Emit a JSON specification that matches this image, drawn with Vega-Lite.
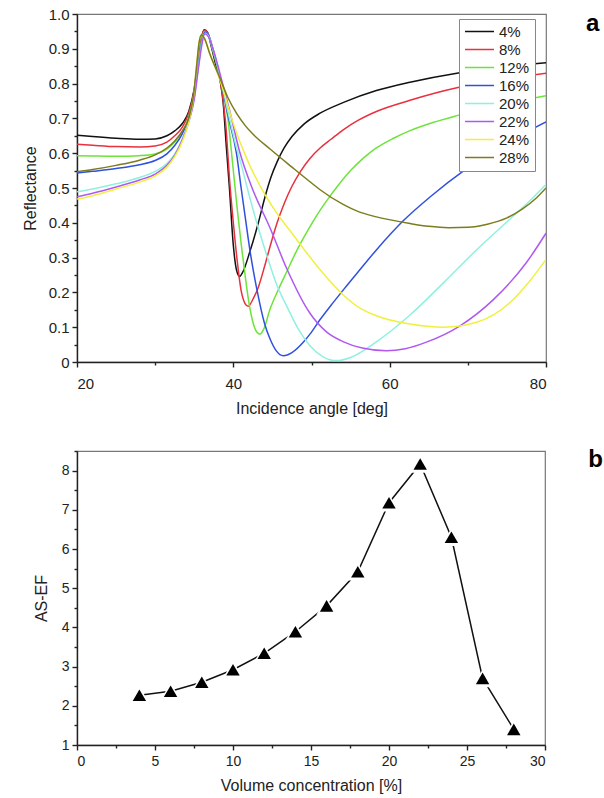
{
"$schema": "https://vega.github.io/schema/vega-lite/v6.json",
"padding": {"left": 21, "top": 6, "right": 5, "bottom": 5},
"spacing": 26,
"resolve": {"scale": {"color": "independent"}, "legend": {"color": "independent"}},
"config": {
  "font": "Liberation Sans",
  "view": {"stroke": "#777", "strokeWidth": 1.2},
  "axis": {"grid": false, "domainColor": "#222", "tickColor": "#222", "labelColor": "#222", "titleColor": "#222", "labelFont": "Liberation Sans", "titleFont": "Liberation Sans", "titleFontWeight": "normal", "domainWidth": 1.4, "tickWidth": 1.4, "labelOverlap": false}
},
"vconcat": [
{
  "width": 469, "height": 348,
  "title": {"text": "a", "orient": "right", "anchor": "start", "angle": 0, "align": "left", "baseline": "top", "fontSize": 24, "fontWeight": "bold", "offset": 26, "dy": 5, "color": "#000"},
  "data": {"values": [
{"c":"4%","a":20,"r":0.652},{"c":"4%","a":22,"r":0.648},{"c":"4%","a":25,"r":0.643},{"c":"4%","a":28,"r":0.640},{"c":"4%","a":30,"r":0.641},{"c":"4%","a":31.5,"r":0.650},{"c":"4%","a":32.5,"r":0.664},{"c":"4%","a":33.5,"r":0.686},{"c":"4%","a":34.3,"r":0.720},{"c":"4%","a":35,"r":0.785},{"c":"4%","a":35.5,"r":0.865},{"c":"4%","a":36,"r":0.94},{"c":"4%","a":36.3,"r":0.955},{"c":"4%","a":36.7,"r":0.947},{"c":"4%","a":37.2,"r":0.905},{"c":"4%","a":37.8,"r":0.85},{"c":"4%","a":38.3,"r":0.81},{"c":"4%","a":38.7,"r":0.745},{"c":"4%","a":39.1,"r":0.62},{"c":"4%","a":39.5,"r":0.50},{"c":"4%","a":40.0,"r":0.335},{"c":"4%","a":40.4,"r":0.265},{"c":"4%","a":40.8,"r":0.246},{"c":"4%","a":41.2,"r":0.258},{"c":"4%","a":42.1,"r":0.316},{"c":"4%","a":43.2,"r":0.40},{"c":"4%","a":44.0,"r":0.47},{"c":"4%","a":44.8,"r":0.53},{"c":"4%","a":45.6,"r":0.575},{"c":"4%","a":46.5,"r":0.615},{"c":"4%","a":47.5,"r":0.648},{"c":"4%","a":49.0,"r":0.683},{"c":"4%","a":51.1,"r":0.715},{"c":"4%","a":54.1,"r":0.746},{"c":"4%","a":58.3,"r":0.78},{"c":"4%","a":62.6,"r":0.804},{"c":"4%","a":68.6,"r":0.83},{"c":"4%","a":74,"r":0.846},{"c":"4%","a":80,"r":0.86},
{"c":"8%","a":20,"r":0.626},{"c":"8%","a":22,"r":0.623},{"c":"8%","a":25,"r":0.619},{"c":"8%","a":28,"r":0.618},{"c":"8%","a":30,"r":0.621},{"c":"8%","a":31.5,"r":0.632},{"c":"8%","a":32.5,"r":0.650},{"c":"8%","a":33.5,"r":0.676},{"c":"8%","a":34.3,"r":0.715},{"c":"8%","a":35,"r":0.78},{"c":"8%","a":35.5,"r":0.86},{"c":"8%","a":36,"r":0.937},{"c":"8%","a":36.3,"r":0.953},{"c":"8%","a":36.8,"r":0.942},{"c":"8%","a":37.4,"r":0.895},{"c":"8%","a":38.3,"r":0.815},{"c":"8%","a":39.0,"r":0.69},{"c":"8%","a":39.6,"r":0.50},{"c":"8%","a":40.0,"r":0.40},{"c":"8%","a":40.5,"r":0.29},{"c":"8%","a":41.0,"r":0.205},{"c":"8%","a":41.5,"r":0.168},{"c":"8%","a":41.9,"r":0.16},{"c":"8%","a":42.5,"r":0.18},{"c":"8%","a":43.2,"r":0.215},{"c":"8%","a":44.0,"r":0.275},{"c":"8%","a":44.8,"r":0.34},{"c":"8%","a":45.6,"r":0.40},{"c":"8%","a":46.5,"r":0.455},{"c":"8%","a":47.5,"r":0.505},{"c":"8%","a":48.6,"r":0.548},{"c":"8%","a":49.8,"r":0.585},{"c":"8%","a":51.1,"r":0.615},{"c":"8%","a":52.5,"r":0.64},{"c":"8%","a":54.1,"r":0.668},{"c":"8%","a":56,"r":0.695},{"c":"8%","a":58.3,"r":0.72},{"c":"8%","a":62.6,"r":0.752},{"c":"8%","a":68.6,"r":0.788},{"c":"8%","a":74,"r":0.81},{"c":"8%","a":80,"r":0.83},
{"c":"12%","a":20,"r":0.593},{"c":"12%","a":22,"r":0.592},{"c":"12%","a":25,"r":0.591},{"c":"12%","a":28,"r":0.593},{"c":"12%","a":30,"r":0.598},{"c":"12%","a":31.5,"r":0.612},{"c":"12%","a":32.5,"r":0.632},{"c":"12%","a":33.5,"r":0.663},{"c":"12%","a":34.3,"r":0.705},{"c":"12%","a":35,"r":0.772},{"c":"12%","a":35.5,"r":0.855},{"c":"12%","a":36,"r":0.932},{"c":"12%","a":36.3,"r":0.95},{"c":"12%","a":36.8,"r":0.94},{"c":"12%","a":37.4,"r":0.893},{"c":"12%","a":38.3,"r":0.815},{"c":"12%","a":39.3,"r":0.70},{"c":"12%","a":40.0,"r":0.55},{"c":"12%","a":40.5,"r":0.44},{"c":"12%","a":41.0,"r":0.34},{"c":"12%","a":41.5,"r":0.25},{"c":"12%","a":42.0,"r":0.17},{"c":"12%","a":42.5,"r":0.115},{"c":"12%","a":43.0,"r":0.086},{"c":"12%","a":43.4,"r":0.08},{"c":"12%","a":43.9,"r":0.095},{"c":"12%","a":44.7,"r":0.152},{"c":"12%","a":45.7,"r":0.205},{"c":"12%","a":46.8,"r":0.258},{"c":"12%","a":48.0,"r":0.315},{"c":"12%","a":49.2,"r":0.365},{"c":"12%","a":50.5,"r":0.415},{"c":"12%","a":52.0,"r":0.465},{"c":"12%","a":53.5,"r":0.51},{"c":"12%","a":55.0,"r":0.55},{"c":"12%","a":56.6,"r":0.585},{"c":"12%","a":58.3,"r":0.615},{"c":"12%","a":60.5,"r":0.643},{"c":"12%","a":62.6,"r":0.665},{"c":"12%","a":65.5,"r":0.688},{"c":"12%","a":68.6,"r":0.708},{"c":"12%","a":74,"r":0.738},{"c":"12%","a":80,"r":0.765},
{"c":"16%","a":20,"r":0.543},{"c":"16%","a":22,"r":0.548},{"c":"16%","a":25,"r":0.556},{"c":"16%","a":28,"r":0.567},{"c":"16%","a":30,"r":0.579},{"c":"16%","a":31.5,"r":0.598},{"c":"16%","a":32.5,"r":0.622},{"c":"16%","a":33.5,"r":0.657},{"c":"16%","a":34.3,"r":0.70},{"c":"16%","a":35,"r":0.765},{"c":"16%","a":35.5,"r":0.848},{"c":"16%","a":36,"r":0.925},{"c":"16%","a":36.4,"r":0.948},{"c":"16%","a":36.9,"r":0.935},{"c":"16%","a":37.5,"r":0.89},{"c":"16%","a":38.3,"r":0.82},{"c":"16%","a":39.3,"r":0.71},{"c":"16%","a":40.4,"r":0.60},{"c":"16%","a":41.0,"r":0.50},{"c":"16%","a":41.5,"r":0.42},{"c":"16%","a":42.2,"r":0.31},{"c":"16%","a":43.0,"r":0.21},{"c":"16%","a":44.0,"r":0.11},{"c":"16%","a":44.7,"r":0.066},{"c":"16%","a":45.5,"r":0.032},{"c":"16%","a":46.4,"r":0.018},{"c":"16%","a":47.5,"r":0.027},{"c":"16%","a":49.0,"r":0.058},{"c":"16%","a":49.8,"r":0.08},{"c":"16%","a":51.1,"r":0.122},{"c":"16%","a":52.5,"r":0.163},{"c":"16%","a":54.1,"r":0.208},{"c":"16%","a":56,"r":0.26},{"c":"16%","a":58.3,"r":0.322},{"c":"16%","a":61.7,"r":0.405},{"c":"16%","a":65.2,"r":0.475},{"c":"16%","a":69.8,"r":0.555},{"c":"16%","a":75,"r":0.63},{"c":"16%","a":80,"r":0.69},
{"c":"20%","a":20,"r":0.489},{"c":"20%","a":22,"r":0.497},{"c":"20%","a":25,"r":0.512},{"c":"20%","a":28,"r":0.530},{"c":"20%","a":30,"r":0.548},{"c":"20%","a":31.5,"r":0.570},{"c":"20%","a":32.5,"r":0.598},{"c":"20%","a":33.5,"r":0.643},{"c":"20%","a":34.3,"r":0.695},{"c":"20%","a":35,"r":0.76},{"c":"20%","a":35.5,"r":0.843},{"c":"20%","a":36,"r":0.92},{"c":"20%","a":36.4,"r":0.945},{"c":"20%","a":36.9,"r":0.933},{"c":"20%","a":37.5,"r":0.89},{"c":"20%","a":38.3,"r":0.822},{"c":"20%","a":39.5,"r":0.70},{"c":"20%","a":40.3,"r":0.625},{"c":"20%","a":41.1,"r":0.56},{"c":"20%","a":41.9,"r":0.49},{"c":"20%","a":43.0,"r":0.40},{"c":"20%","a":44.3,"r":0.305},{"c":"20%","a":45.5,"r":0.225},{"c":"20%","a":46.8,"r":0.162},{"c":"20%","a":48.3,"r":0.095},{"c":"20%","a":49.8,"r":0.047},{"c":"20%","a":51.5,"r":0.015},{"c":"20%","a":53.2,"r":0.004},{"c":"20%","a":55,"r":0.013},{"c":"20%","a":58.3,"r":0.058},{"c":"20%","a":62.6,"r":0.135},{"c":"20%","a":66.9,"r":0.228},{"c":"20%","a":71.1,"r":0.322},{"c":"20%","a":75.4,"r":0.411},{"c":"20%","a":78.0,"r":0.465},{"c":"20%","a":80,"r":0.51},
{"c":"22%","a":20,"r":0.475},{"c":"22%","a":22,"r":0.485},{"c":"22%","a":25,"r":0.503},{"c":"22%","a":28,"r":0.523},{"c":"22%","a":30,"r":0.540},{"c":"22%","a":31.5,"r":0.565},{"c":"22%","a":32.5,"r":0.594},{"c":"22%","a":33.5,"r":0.640},{"c":"22%","a":34.3,"r":0.690},{"c":"22%","a":35,"r":0.755},{"c":"22%","a":35.5,"r":0.838},{"c":"22%","a":36,"r":0.915},{"c":"22%","a":36.3,"r":0.943},{"c":"22%","a":36.8,"r":0.935},{"c":"22%","a":37.5,"r":0.893},{"c":"22%","a":38.3,"r":0.828},{"c":"22%","a":39.5,"r":0.725},{"c":"22%","a":40.8,"r":0.605},{"c":"22%","a":42.4,"r":0.50},{"c":"22%","a":44.7,"r":0.385},{"c":"22%","a":46.8,"r":0.27},{"c":"22%","a":49.8,"r":0.14},{"c":"22%","a":52,"r":0.085},{"c":"22%","a":54.1,"r":0.058},{"c":"22%","a":56.5,"r":0.04},{"c":"22%","a":59.6,"r":0.032},{"c":"22%","a":62,"r":0.038},{"c":"22%","a":64.7,"r":0.057},{"c":"22%","a":69.0,"r":0.104},{"c":"22%","a":73.3,"r":0.18},{"c":"22%","a":77.5,"r":0.286},{"c":"22%","a":80,"r":0.37},
{"c":"24%","a":20,"r":0.468},{"c":"24%","a":22,"r":0.478},{"c":"24%","a":25,"r":0.497},{"c":"24%","a":28,"r":0.517},{"c":"24%","a":30,"r":0.535},{"c":"24%","a":31.5,"r":0.560},{"c":"24%","a":32.5,"r":0.590},{"c":"24%","a":33.5,"r":0.635},{"c":"24%","a":34.3,"r":0.69},{"c":"24%","a":34.9,"r":0.76},{"c":"24%","a":35.3,"r":0.85},{"c":"24%","a":35.6,"r":0.915},{"c":"24%","a":35.9,"r":0.938},{"c":"24%","a":36.3,"r":0.93},{"c":"24%","a":37,"r":0.885},{"c":"24%","a":38.3,"r":0.81},{"c":"24%","a":40,"r":0.685},{"c":"24%","a":41.7,"r":0.585},{"c":"24%","a":43.4,"r":0.507},{"c":"24%","a":45.5,"r":0.43},{"c":"24%","a":47.5,"r":0.37},{"c":"24%","a":49.0,"r":0.325},{"c":"24%","a":51.1,"r":0.265},{"c":"24%","a":54.1,"r":0.192},{"c":"24%","a":56,"r":0.158},{"c":"24%","a":58.3,"r":0.133},{"c":"24%","a":62.6,"r":0.109},{"c":"24%","a":66.9,"r":0.10},{"c":"24%","a":71.1,"r":0.114},{"c":"24%","a":75.4,"r":0.171},{"c":"24%","a":78,"r":0.235},{"c":"24%","a":80,"r":0.295},
{"c":"28%","a":20,"r":0.547},{"c":"28%","a":22,"r":0.553},{"c":"28%","a":25,"r":0.565},{"c":"28%","a":28,"r":0.580},{"c":"28%","a":30,"r":0.595},{"c":"28%","a":31.5,"r":0.615},{"c":"28%","a":32.5,"r":0.635},{"c":"28%","a":33.5,"r":0.665},{"c":"28%","a":34.3,"r":0.70},{"c":"28%","a":34.9,"r":0.765},{"c":"28%","a":35.3,"r":0.85},{"c":"28%","a":35.6,"r":0.915},{"c":"28%","a":35.9,"r":0.94},{"c":"28%","a":36.3,"r":0.93},{"c":"28%","a":37,"r":0.885},{"c":"28%","a":38.3,"r":0.815},{"c":"28%","a":39.3,"r":0.76},{"c":"28%","a":40.4,"r":0.715},{"c":"28%","a":41.5,"r":0.68},{"c":"28%","a":42.5,"r":0.655},{"c":"28%","a":44.7,"r":0.612},{"c":"28%","a":47.5,"r":0.56},{"c":"28%","a":49.8,"r":0.518},{"c":"28%","a":51.1,"r":0.495},{"c":"28%","a":54.1,"r":0.452},{"c":"28%","a":56,"r":0.432},{"c":"28%","a":58.3,"r":0.417},{"c":"28%","a":62.6,"r":0.398},{"c":"28%","a":65,"r":0.39},{"c":"28%","a":67.5,"r":0.386},{"c":"28%","a":70,"r":0.387},{"c":"28%","a":72.5,"r":0.396},{"c":"28%","a":75,"r":0.414},{"c":"28%","a":77,"r":0.44},{"c":"28%","a":78.8,"r":0.472},{"c":"28%","a":80,"r":0.50}
  ]},
  "mark": {"type": "line", "interpolate": "monotone", "strokeWidth": 1.5, "clip": true},
  "encoding": {
    "x": {"field": "a", "type": "quantitative", "scale": {"domain": [20, 80], "nice": false, "zero": false},
      "axis": {"title": "Incidence angle [deg]", "values": [20,30,40,50,60,70,80], "labelExpr": "datum.value % 20 == 0 ? datum.label : ''",
        "tickSize": {"condition": {"test": "datum.value % 20 == 0", "value": 5}, "value": 3},
        "labelFontSize": 15, "titleFontSize": 16, "labelPadding": 9, "titlePadding": 9}},
    "y": {"field": "r", "type": "quantitative", "scale": {"domain": [0, 1], "nice": false},
      "axis": {"title": "Reflectance", "values": [0,0.05,0.1,0.15,0.2,0.25,0.3,0.35,0.4,0.45,0.5,0.55,0.6,0.65,0.7,0.75,0.8,0.85,0.9,0.95,1],
        "labelExpr": "abs(datum.value*10 - round(datum.value*10)) < 0.01 ? (datum.value == 0 ? '0' : format(datum.value, '.1f')) : ''",
        "tickSize": {"condition": {"test": "abs(datum.value*10 - round(datum.value*10)) < 0.01", "value": 5}, "value": 3},
        "labelFontSize": 15, "titleFontSize": 16, "labelPadding": 3, "titlePadding": 10}},
    "color": {"field": "c", "type": "nominal",
      "scale": {"domain": ["4%","8%","12%","16%","20%","22%","24%","28%"], "range": ["#111111","#e8303e","#6ce43a","#3050e0","#90f0e0","#b058f0","#f0f040","#7c7c1c"]},
      "legend": {"title": null, "orient": "none", "legendX": 382, "legendY": 5, "symbolType": "stroke", "symbolSize": 841, "symbolStrokeWidth": 1.5,
        "labelFontSize": 15, "labelFont": "Liberation Sans", "labelColor": "#222", "labelOffset": 4,
        "labelExpr": "length(datum.label) < 3 ? '\u2007' + datum.label : datum.label",
        "strokeColor": "#888", "fillColor": "white", "padding": 5, "clipHeight": 15, "rowPadding": 2.0}}
  }
},
{
  "width": 468, "height": 294,
  "title": {"text": "b", "orient": "right", "anchor": "start", "angle": 0, "align": "left", "baseline": "top", "fontSize": 24, "fontWeight": "bold", "offset": 28, "dy": 4, "color": "#000"},
  "data": {"values": [
    {"v":4,"e":2.27},{"v":6,"e":2.37},{"v":8,"e":2.6},{"v":10,"e":2.92},{"v":12,"e":3.34},{"v":14,"e":3.89},{"v":16,"e":4.55},{"v":18,"e":5.42},{"v":20,"e":7.18},{"v":22,"e":8.17},{"v":24,"e":6.3},{"v":26,"e":2.7},{"v":28,"e":1.4}
  ]},
  "encoding": {
    "x": {"field": "v", "type": "quantitative", "scale": {"domain": [0, 30], "nice": false},
      "axis": {"title": "Volume concentration [%]", "values": [0,2.5,5,7.5,10,12.5,15,17.5,20,22.5,25,27.5,30], "labelExpr": "datum.value % 5 == 0 ? datum.label : ''",
        "tickSize": {"condition": {"test": "datum.value % 5 == 0", "value": 5}, "value": 3},
        "labelFontSize": 14, "titleFontSize": 16, "labelPadding": 4, "titlePadding": 9}},
    "y": {"field": "e", "type": "quantitative", "scale": {"domain": [1, 8.5], "nice": false, "zero": false},
      "axis": {"title": "AS-EF", "values": [1,1.5,2,2.5,3,3.5,4,4.5,5,5.5,6,6.5,7,7.5,8,8.5], "labelExpr": "datum.value % 1 == 0 ? format(datum.value, 'd') : ''",
        "tickSize": {"condition": {"test": "datum.value % 1 == 0", "value": 5}, "value": 3},
        "labelFontSize": 14, "titleFontSize": 16, "labelPadding": 3, "titlePadding": 12}}
  },
  "layer": [
    {"mark": {"type": "line", "color": "#111", "strokeWidth": 1.5}},
    {"mark": {"type": "point", "shape": "triangle-up", "filled": true, "color": "white", "opacity": 1, "size": 420}},
    {"mark": {"type": "point", "shape": "triangle-up", "filled": true, "color": "#000", "opacity": 1, "size": 180}}
  ]
}
]
}
